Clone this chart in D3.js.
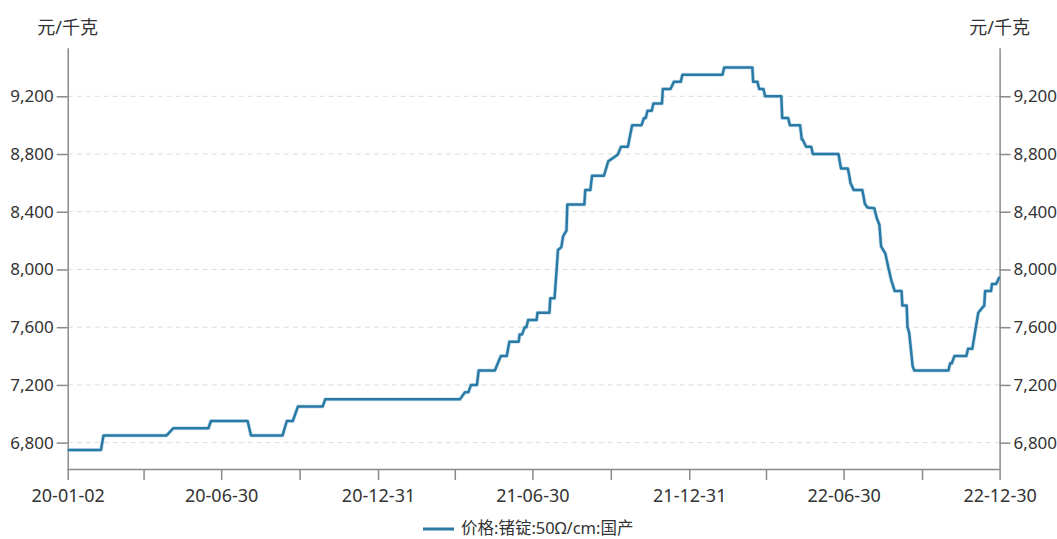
<!DOCTYPE html>
<html><head><meta charset="utf-8">
<script src="https://cdn.jsdelivr.net/npm/d3@7"></script>
<style>
body{margin:0;background:#fff;}
text{font-family:"Noto Sans","Noto Sans CJK SC",sans-serif;fill:#333;}
</style></head>
<body><svg id="c" width="1057" height="539"></svg>
<script>
const seriesName = "价格:锗锭:50Ω/cm:国产";
const unitLabel = "元/千克";
const dates = ["2020-01-02","2020-02-10","2020-02-13","2020-04-27","2020-05-05","2020-06-15","2020-06-18","2020-07-31","2020-08-04","2020-09-10","2020-09-15","2020-09-22","2020-09-28","2020-10-27","2020-10-30","2021-04-06","2021-04-12","2021-04-16","2021-04-19","2021-04-26","2021-04-28","2021-05-17","2021-05-24","2021-05-31","2021-06-03","2021-06-14","2021-06-15","2021-06-18","2021-06-21","2021-06-23","2021-06-25","2021-07-05","2021-07-06","2021-07-20","2021-07-21","2021-07-26","2021-07-29","2021-07-30","2021-08-03","2021-08-05","2021-08-09","2021-08-10","2021-08-30","2021-08-31","2021-09-06","2021-09-08","2021-09-22","2021-09-27","2021-10-08","2021-10-12","2021-10-20","2021-10-25","2021-11-05","2021-11-08","2021-11-10","2021-11-12","2021-11-17","2021-11-19","2021-11-29","2021-11-30","2021-12-09","2021-12-13","2021-12-21","2021-12-23","2022-02-08","2022-02-10","2022-03-15","2022-03-16","2022-03-21","2022-03-23","2022-03-28","2022-03-30","2022-04-18","2022-04-19","2022-04-26","2022-04-28","2022-05-10","2022-05-12","2022-05-13","2022-05-17","2022-05-23","2022-05-25","2022-06-24","2022-06-27","2022-07-05","2022-07-07","2022-07-08","2022-07-12","2022-07-22","2022-07-25","2022-07-28","2022-08-05","2022-08-08","2022-08-11","2022-08-13","2022-08-18","2022-08-22","2022-08-25","2022-08-29","2022-09-06","2022-09-07","2022-09-12","2022-09-13","2022-09-15","2022-09-19","2022-09-21","2022-10-31","2022-11-02","2022-11-04","2022-11-07","2022-11-21","2022-11-23","2022-11-28","2022-12-02","2022-12-05","2022-12-09","2022-12-12","2022-12-13","2022-12-20","2022-12-21","2022-12-26","2022-12-30"];
const prices = [6750,6750,6850,6850,6900,6900,6950,6950,6850,6850,6950,6950,7050,7050,7100,7100,7150,7150,7200,7200,7300,7300,7400,7400,7500,7500,7550,7550,7600,7600,7650,7650,7700,7700,7800,7800,8045,8135,8155,8230,8270,8450,8450,8550,8550,8650,8650,8750,8795,8850,8850,9000,9000,9050,9050,9100,9100,9150,9150,9250,9250,9300,9300,9350,9350,9400,9400,9300,9300,9250,9250,9200,9200,9050,9050,9000,9000,8900,8900,8850,8850,8800,8800,8700,8700,8640,8600,8550,8550,8455,8430,8425,8355,8310,8160,8110,8000,7925,7850,7850,7750,7750,7600,7560,7330,7300,7300,7350,7350,7400,7400,7450,7450,7595,7700,7730,7750,7850,7850,7900,7900,7950];
const xTickDates = ["2020-01-02","2020-03-31","2020-06-30","2020-09-30","2020-12-31","2021-03-31","2021-06-30","2021-09-30","2021-12-31","2022-03-31","2022-06-30","2022-09-30","2022-12-30"];
const yTicks = [6800,7200,7600,8000,8400,8800,9200];

const parse = d3.timeParse("%Y-%m-%d");
const data = dates.map((d,i)=>({date:parse(d), v:prices[i]}));
const svg = d3.select("#c");
const L = 67.7, R = 999.6, T = 48.3, B = 469;
const x = d3.scaleTime().domain([parse(dates[0]), parse(dates[dates.length-1])]).range([L,R]);
const mn = d3.min(prices), mx = d3.max(prices), pad = (mx-mn)*0.05;
const y = d3.scaleLinear().domain([mn-pad, mx+pad]).range([B,T]);

// grid
svg.append("g").selectAll("line").data(yTicks).join("line")
  .attr("x1",L).attr("x2",R).attr("y1",d=>y(d)).attr("y2",d=>y(d))
  .attr("stroke","#dcdcdc").attr("stroke-width",1).attr("stroke-dasharray","5,4");

const fmt = d3.format(",");
const gl = svg.append("g").attr("transform",`translate(${L},0)`)
  .call(d3.axisLeft(y).tickValues(yTicks).tickFormat(fmt).tickSize(11).tickPadding(3));
const gr = svg.append("g").attr("transform",`translate(${R},0)`)
  .call(d3.axisRight(y).tickValues(yTicks).tickFormat(fmt).tickSize(11).tickPadding(3));
const gb = svg.append("g").attr("transform",`translate(0,${B})`)
  .call(d3.axisBottom(x).tickValues(xTickDates.map(parse)).tickSize(11).tickPadding(9)
    .tickFormat((d,i)=> i%2===0 ? d3.timeFormat("%y-%m-%d")(d) : ""));
[gl,gr,gb].forEach(g=>{
  g.select(".domain").attr("stroke","#8a8a8a").attr("stroke-width",1.5);
  g.selectAll(".tick line").attr("stroke","#8a8a8a").attr("stroke-width",1.5);
  g.selectAll("text").attr("font-size",17).attr("fill","#333")
   .style("font-family","'Noto Sans','Noto Sans CJK SC',sans-serif");
});
gb.selectAll("text").attr("font-size",18).attr("dy","0.72em");
gl.select(".domain").attr("d",`M0.5,${T}V${B}`);
gr.select(".domain").attr("d",`M0.5,${T}V${B}`);
gb.select(".domain").attr("d",`M${L},0.5H${R}`);

svg.append("text").attr("x",L).attr("y",34).attr("text-anchor","middle").attr("font-size",18).text(unitLabel);
svg.append("text").attr("x",R).attr("y",34).attr("text-anchor","middle").attr("font-size",18).text(unitLabel);

const line = d3.line().x(d=>x(d.date)).y(d=>y(d.v));
svg.append("path").datum(data).attr("d",line).attr("fill","none")
  .attr("stroke","#9cc6de").attr("stroke-width",4).attr("stroke-opacity",0.5).attr("stroke-linejoin","round");
svg.append("path").datum(data).attr("d",line).attr("fill","none")
  .attr("stroke","#2a7aa6").attr("stroke-width",2.5).attr("stroke-linejoin","round");

// legend
const lg = svg.append("g");
lg.append("line").attr("x1",423).attr("x2",454).attr("y1",529).attr("y2",529)
  .attr("stroke","#2a7aa6").attr("stroke-width",3);
lg.append("text").attr("x",461).attr("y",528).attr("dy","0.36em").attr("font-size",16.5).text(seriesName);
</script></body></html>
